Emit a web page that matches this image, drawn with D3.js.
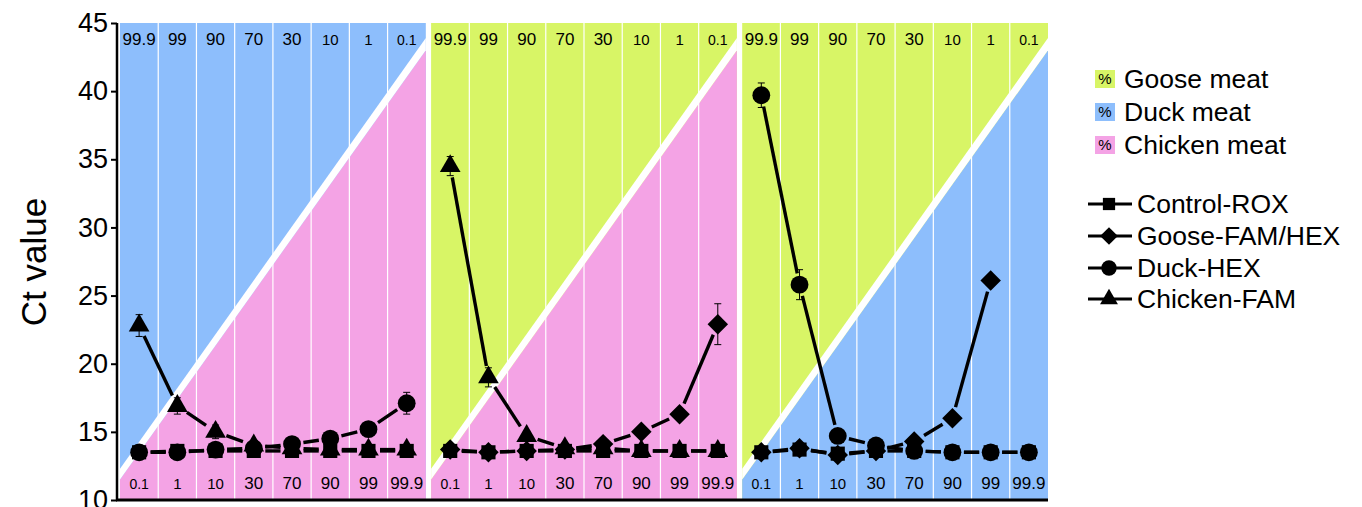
<!DOCTYPE html>
<html>
<head>
<meta charset="utf-8">
<script src="https://cdn.jsdelivr.net/npm/d3@7"></script>
<style>
  body { margin: 0; background: #fff; }
  text { font-family: Arial, "Liberation Sans", sans-serif; }
</style>
</head>
<body>
<svg id="chart" width="1362" height="507"></svg>
<script>
// x labels of each panel (upper species % on top, lower species % at bottom)
var upperLabels = ["99.9", "99", "90", "70", "30", "10", "1", "0.1"];
var lowerLabels = ["0.1", "1", "10", "30", "70", "90", "99", "99.9"];
var panelUpper = ["Duck", "Goose", "Goose"];
var panelLower = ["Chicken", "Chicken", "Duck"];
var yTicks = [10, 15, 20, 25, 30, 35, 40, 45];

var meatNames = ["Goose", "Duck", "Chicken"];
var meatColors = ["#d8f566", "#8dbefc", "#f4a3e5"];

var seriesNames = ["Control-ROX", "Goose-FAM/HEX", "Duck-HEX", "Chicken-FAM"];
var seriesShapes = ["square", "diamond", "circle", "triangle"];

// Ct values per panel (null = not detected / not plotted)
var controlRox = [
  [13.5, 13.6, 13.6, 13.6, 13.6, 13.6, 13.6, 13.6],
  [13.6, 13.5, 13.6, 13.6, 13.6, 13.6, 13.6, 13.6],
  [13.5, 13.7, 13.4, 13.6, 13.6, 13.5, 13.5, 13.5]
];
var gooseFamHex = [
  null,
  [13.7, 13.5, 13.6, 13.7, 14.1, 15.0, 16.3, 22.9],
  [13.5, 13.8, 13.3, 13.6, 14.3, 16.0, 26.1, null]
];
var duckHex = [
  [13.5, 13.5, 13.7, 13.8, 14.1, 14.5, 15.2, 17.1],
  null,
  [39.7, 25.8, 14.7, 14.0, 13.6, 13.5, 13.5, 13.5]
];
var chickenFam = [
  [22.8, 16.9, 15.0, 14.0, 13.8, 13.7, 13.7, 13.7],
  [34.5, 19.0, 14.7, 13.8, 13.8, 13.6, 13.6, 13.6],
  null
];
// standard deviations
var controlRoxSd = [
  [0.2, 0.2, 0.2, 0.2, 0.2, 0.2, 0.2, 0.2],
  [0.2, 0.2, 0.2, 0.2, 0.2, 0.2, 0.2, 0.2],
  [0.2, 0.2, 0.2, 0.2, 0.2, 0.2, 0.2, 0.2]
];
var gooseFamHexSd = [
  null,
  [0.2, 0.2, 0.2, 0.2, 0.3, 0.3, 0.3, 1.5],
  [0.2, 0.2, 0.2, 0.2, 0.2, 0.3, 0.3, null]
];
var duckHexSd = [
  [0.2, 0.2, 0.2, 0.2, 0.3, 0.3, 0.3, 0.8],
  null,
  [0.9, 1.1, 0.3, 0.2, 0.2, 0.2, 0.2, 0.2]
];
var chickenFamSd = [
  [0.8, 0.6, 0.5, 0.3, 0.3, 0.2, 0.2, 0.2],
  [0.7, 0.7, 0.3, 0.2, 0.2, 0.2, 0.2, 0.2],
  null
];

var seriesValues = [controlRox, gooseFamHex, duckHex, chickenFam];
var seriesSd = [controlRoxSd, gooseFamHexSd, duckHexSd, chickenFamSd];

var svg = d3.select("#chart");
var plotTop = 23, plotBottom = 500, plotLeft = 120, plotRight = 1048;

var y = d3.scaleLinear().domain([10, 45]).range([plotBottom, plotTop]);
var panelX = d3.scaleBand().domain([0, 1, 2]).range([plotLeft, plotRight]).paddingInner(0.017);

function meatColor(name){
  return meatColors[meatNames.indexOf(name)];
}

function markerPath(shape, big){
  var s = big ? 1 : 0.75;
  if(shape == "square") return d3.symbol(d3.symbolSquare, 200 * s)();
  if(shape == "diamond") return d3.symbol(d3.symbolSquare, 210 * s)();
  if(shape == "circle") return d3.symbol(d3.symbolCircle, 250 * s)();
  return d3.symbol(d3.symbolTriangle, 185 * s)();
}
function markerTransform(shape, px, py){
  return "translate(" + px + "," + py + ")" + (shape == "diamond" ? " rotate(45)" : "");
}
function labelSize(l){
  if(l == "0.1") return 14;
  if(l == "1" || l == "10") return 15;
  return 17;
}

for (var p = 0; p < 3; p++) {
  var x0 = panelX(p), w = panelX.bandwidth(), x1 = x0 + w;
  var x = d3.scaleBand().domain(d3.range(8)).range([x0, x1]);
  var g = svg.append("g");

  // upper species background
  g.append("rect")
    .attr("x", x0).attr("y", plotTop)
    .attr("width", w).attr("height", plotBottom - plotTop)
    .attr("fill", meatColor(panelUpper[p]));

  // lower species triangle below the diagonal
  g.append("path")
    .attr("d", "M" + x0 + "," + plotBottom + "L" + x0 + "," + y(11.5) +
               "L" + x1 + "," + y(43.0) + "L" + x1 + "," + plotBottom + "Z")
    .attr("fill", meatColor(panelLower[p]));

  // white diagonal band
  g.append("path")
    .attr("d", "M" + x0 + "," + y(11.5) + "L" + x0 + "," + y(12.3) +
               "L" + x1 + "," + y(43.9) + "L" + x1 + "," + y(43.0) + "Z")
    .attr("fill", "#fff");

  // column separators
  for (var c = 1; c < 8; c++) {
    g.append("line")
      .attr("x1", x(c)).attr("x2", x(c))
      .attr("y1", plotTop).attr("y2", plotBottom)
      .attr("stroke", "#fff").attr("stroke-width", 1.2);
  }

  // percent labels
  upperLabels.forEach(function(l, i){
    g.append("text")
      .attr("x", x(i) + x.bandwidth() / 2)
      .attr("y", 45)
      .attr("text-anchor", "middle")
      .attr("font-size", labelSize(l))
      .text(l);
  });
  lowerLabels.forEach(function(l, i){
    g.append("text")
      .attr("x", x(i) + x.bandwidth() / 2)
      .attr("y", 489)
      .attr("text-anchor", "middle")
      .attr("font-size", labelSize(l))
      .text(l);
  });

  // series: lines with gaps, error bars, markers
  for (var s = 0; s < seriesValues.length; s++) {
    var vals = seriesValues[s][p];
    if (!vals) continue;
    var sds = seriesSd[s][p];
    var pts = [];
    vals.forEach(function(v, i){
      if (v != null) pts.push({ px: x(i) + x.bandwidth() / 2, py: y(v), v: v, sd: sds[i] });
    });

    for (var k = 0; k < pts.length - 1; k++) {
      var a = pts[k], b = pts[k + 1];
      var dx = b.px - a.px, dy = b.py - a.py;
      var len = Math.sqrt(dx * dx + dy * dy);
      var gap = 11.5;
      if (len <= gap * 2) continue;
      g.append("line")
        .attr("x1", a.px + dx / len * gap).attr("y1", a.py + dy / len * gap)
        .attr("x2", b.px - dx / len * gap).attr("y2", b.py - dy / len * gap)
        .attr("stroke", "#000").attr("stroke-width", 3.4);
    }

    pts.forEach(function(d){
      var top = y(d.v + d.sd), bot = y(d.v - d.sd);
      g.append("line").attr("x1", d.px).attr("x2", d.px).attr("y1", top).attr("y2", bot)
        .attr("stroke", "#000").attr("stroke-width", 1);
      g.append("line").attr("x1", d.px - 3.5).attr("x2", d.px + 3.5).attr("y1", top).attr("y2", top)
        .attr("stroke", "#000").attr("stroke-width", 1);
      g.append("line").attr("x1", d.px - 3.5).attr("x2", d.px + 3.5).attr("y1", bot).attr("y2", bot)
        .attr("stroke", "#000").attr("stroke-width", 1);
    });

    pts.forEach(function(d){
      g.append("path")
        .attr("d", markerPath(seriesShapes[s], true))
        .attr("transform", markerTransform(seriesShapes[s], d.px, d.py))
        .attr("fill", "#000");
    });
  }
}

// y axis
var yAxis = d3.axisLeft(y).tickValues(yTicks).tickSize(6).tickPadding(3);
var ya = svg.append("g")
  .attr("transform", "translate(" + (plotLeft - 3) + ",0)")
  .call(yAxis);
ya.select(".domain").attr("stroke-width", 2.5).attr("d", "M0," + plotTop + "V" + plotBottom);
ya.selectAll(".tick line").attr("stroke-width", 2);
ya.selectAll(".tick text").attr("font-size", 27).attr("font-family", "Arial, 'Liberation Sans', sans-serif").attr("fill", "#000");

// bottom axis line
svg.append("line")
  .attr("x1", plotLeft - 4).attr("x2", plotRight)
  .attr("y1", plotBottom).attr("y2", plotBottom)
  .attr("stroke", "#000").attr("stroke-width", 3);

svg.append("text")
  .attr("transform", "translate(46," + 262 + ") rotate(-90)")
  .attr("text-anchor", "middle")
  .attr("font-size", 35)
  .text("Ct value");

// legend: meat colours
var meatLegendY = [79, 112, 145];
meatNames.forEach(function(n, i){
  var gy = meatLegendY[i];
  svg.append("rect").attr("x", 1095).attr("y", gy - 9).attr("width", 20).attr("height", 18)
    .attr("fill", meatColors[i]);
  svg.append("text").attr("x", 1105).attr("y", gy + 5).attr("text-anchor", "middle")
    .attr("font-size", 15).text("%");
  svg.append("text").attr("x", 1124).attr("y", gy + 9).attr("font-size", 26.5).text(n + " meat");
});

// legend: series
var seriesLegendY = [204, 236, 268, 299];
seriesNames.forEach(function(n, i){
  var gy = seriesLegendY[i];
  svg.append("line").attr("x1", 1088).attr("x2", 1132).attr("y1", gy).attr("y2", gy)
    .attr("stroke", "#000").attr("stroke-width", 3);
  svg.append("path")
    .attr("d", markerPath(seriesShapes[i], false))
    .attr("transform", markerTransform(seriesShapes[i], 1109, gy))
    .attr("fill", "#000");
  svg.append("text").attr("x", 1137).attr("y", gy + 9).attr("font-size", 26.5).text(n);
});
</script>
</body>
</html>
